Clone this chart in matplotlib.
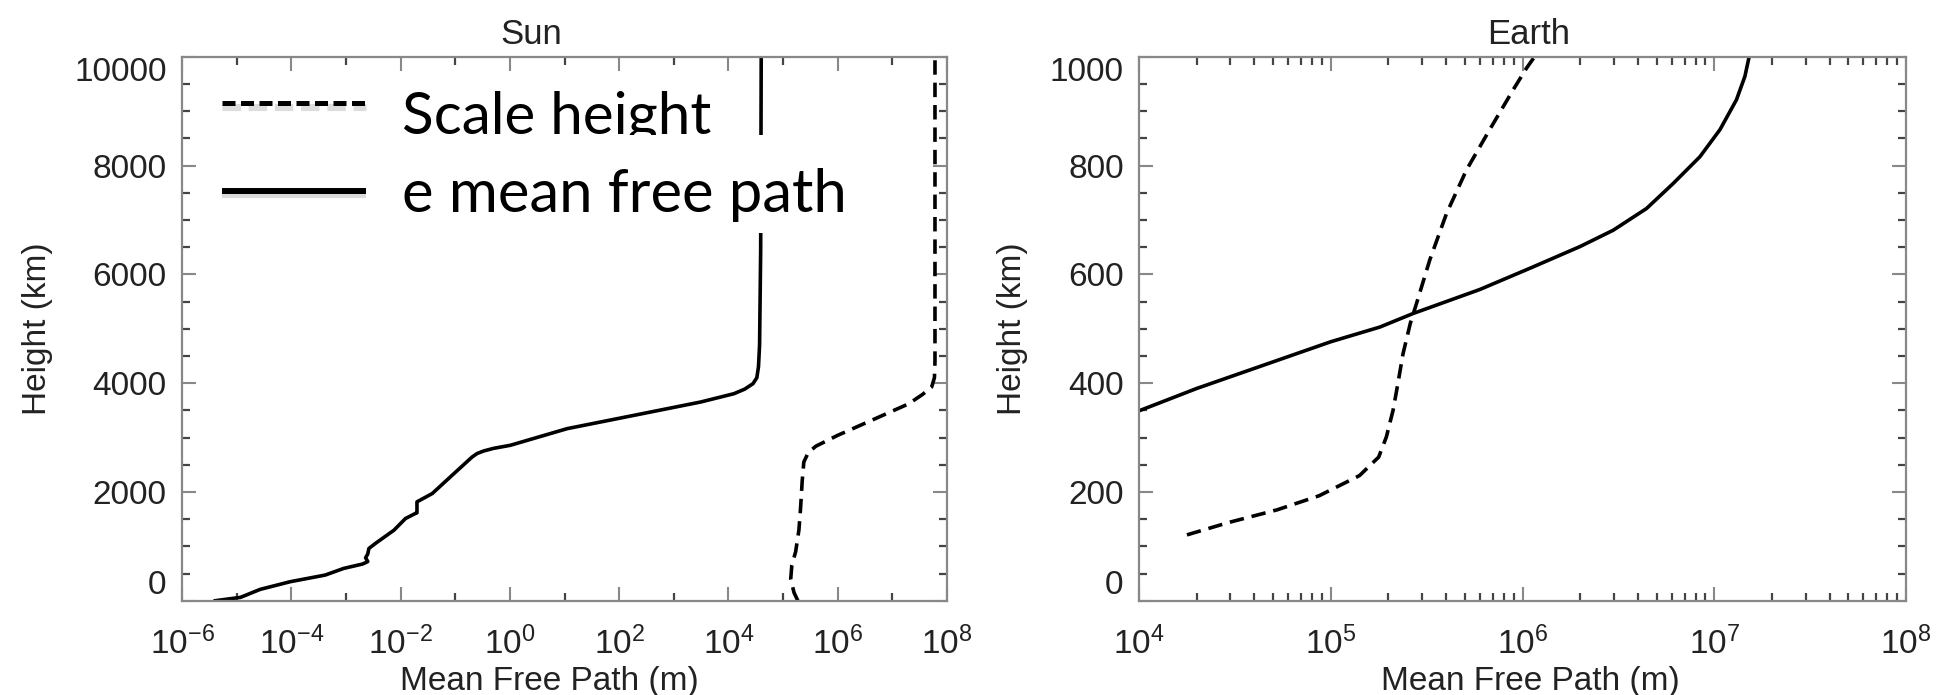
import numpy as np
import matplotlib
matplotlib.use("Agg")
import matplotlib.pyplot as plt
from matplotlib.ticker import (FixedLocator, LogLocator, MultipleLocator,
                               NullFormatter)
from matplotlib.patches import Rectangle

plt.rcParams["font.family"] = ["Liberation Sans", "DejaVu Sans"]
plt.rcParams["mathtext.fontset"] = "custom"
plt.rcParams["mathtext.rm"] = "Liberation Sans"
plt.rcParams["mathtext.it"] = "Liberation Sans:italic"
plt.rcParams["mathtext.bf"] = "Liberation Sans:bold"
plt.rcParams["axes.unicode_minus"] = False

# Sun: log10(mean free path / m) against height (km)
sun_e_log = [-5.39, -4.93, -4.57, -4.02, -3.38, -3.04, -2.70, -2.66, -2.60,
             -2.64, -2.60, -2.58, -2.46, -2.12, -1.91, -1.73, -1.70, -1.70,
             -1.42, -1.09, -0.69, -0.60, -0.48, -0.30, 0.01, 1.05, 2.27,
             3.49, 4.10, 4.30, 4.45, 4.52, 4.55, 4.57, 4.59, 4.60]
sun_e_h = [0, 61, 208, 349, 471, 594, 673, 690, 720, 790, 860, 960, 1053,
           1297, 1511, 1603, 1615, 1817, 1970, 2275, 2642, 2705, 2752, 2800,
           2857, 3163, 3407, 3652, 3805, 3890, 3990, 4100, 4300, 4700, 6435,
           10000]
sun_sh_log = [5.27, 5.20, 5.14, 5.16, 5.23, 5.29, 5.32, 5.35, 5.38, 5.46,
              5.60, 6.00, 6.73, 7.30, 7.55, 7.72, 7.77, 7.78, 7.78]
sun_sh_h = [0, 150, 400, 650, 900, 1300, 1700, 2200, 2550, 2720, 2840, 3040,
            3365, 3620, 3790, 3930, 4100, 4400, 10000]

# Earth
earth_e_log = [4.0, 4.30, 4.65, 5.00, 5.256, 5.43, 5.777, 6.038, 6.30, 6.473,
               6.647, 6.786, 6.925, 7.03, 7.116, 7.16, 7.182]
earth_e_h = [349, 390, 433, 476, 503, 528, 572, 611, 651, 681, 721, 767, 816,
             866, 921, 964, 1000]
earth_sh_log = [4.25, 4.47, 4.72, 4.94, 5.15, 5.25, 5.29, 5.325, 5.35, 5.377,
                5.415, 5.447, 5.516, 5.604, 5.708, 5.829, 5.951, 6.021, 6.059]
earth_sh_h = [121, 144, 167, 193, 230, 264, 301, 350, 399, 454, 510, 546, 626,
              712, 792, 866, 939, 979, 998]

legend_labels = ["Scale height", "e mean free path"]

W, H = 1952, 695
fig = plt.figure(figsize=(W / 100, H / 100), dpi=100)
fig.patch.set_facecolor("white")


def axes_px(x0, x1, y0, y1):
    return fig.add_axes([x0 / W, 1 - y1 / H, (x1 - x0) / W, (y1 - y0) / H])


ax1 = axes_px(182, 947, 56.7, 600.7)
ax2 = axes_px(1139, 1906, 56.7, 600.7)

LW = 2.6
DASH = (0, (4.0, 2.2))

ax1.plot(10.0 ** np.array(sun_e_log), sun_e_h, color="black", lw=LW, zorder=2)
ax1.plot(10.0 ** np.array(sun_sh_log), sun_sh_h, color="black", lw=LW,
         ls=DASH, zorder=2)
ax2.plot(10.0 ** np.array(earth_e_log), earth_e_h, color="black", lw=LW,
         zorder=2)
ax2.plot(10.0 ** np.array(earth_sh_log), earth_sh_h, color="black", lw=LW,
         ls=DASH, zorder=2)

for ax in (ax1, ax2):
    ax.set_xscale("log")
    for sp in ax.spines.values():
        sp.set_color("#888888")
        sp.set_linewidth(1.6)
    ax.tick_params(which="both", direction="in", top=True, right=True,
                   labelsize=24, labelcolor="#222222")
    ax.tick_params(which="major", length=10, width=1.5, color="#888888")
    ax.tick_params(which="minor", length=5.5, width=1.6, color="#444444")
    ax.tick_params(axis="y", pad=11)
    ax.tick_params(axis="x", pad=19)
    ax.set_xlabel("Mean Free Path (m)", fontsize=24, color="#222222")
    ax.set_ylabel("Height (km)", fontsize=24, color="#222222")

ax1.set_xlim(1e-6, 1e8)
ax1.set_ylim(0, 10000)
ax1.xaxis.set_major_locator(FixedLocator(10.0 ** np.arange(-6, 9, 2)))
ax1.xaxis.set_minor_locator(FixedLocator(10.0 ** np.arange(-5, 8, 2)))
ax1.xaxis.set_minor_formatter(NullFormatter())
ax1.yaxis.set_major_locator(MultipleLocator(2000))
ax1.yaxis.set_minor_locator(MultipleLocator(500))

ax2.set_xlim(1e4, 1e8)
ax2.set_ylim(0, 1000)
ax2.xaxis.set_major_locator(LogLocator(base=10, numticks=10))
ax2.xaxis.set_minor_locator(LogLocator(base=10, subs=np.arange(2, 10),
                                       numticks=100))
ax2.xaxis.set_minor_formatter(NullFormatter())
ax2.yaxis.set_major_locator(MultipleLocator(200))
ax2.yaxis.set_minor_locator(MultipleLocator(50))

ax1.yaxis.set_label_coords((53 - 182) / 765, 0.5)
ax2.yaxis.set_label_coords((1028 - 1139) / 767, 0.5)
ax1.xaxis.set_label_coords(0.48, -0.12)
ax2.xaxis.set_label_coords(0.51, -0.12)

ax1.text(0.457, 1.024, "Sun", transform=ax1.transAxes, ha="center",
         va="baseline", fontsize=25, color="#222222")
ax2.text(0.508, 1.024, "Earth", transform=ax2.transAxes, ha="center",
         va="baseline", fontsize=25, color="#222222")

# end labels sit inside the frame, as in the original
fig.canvas.draw()
for ax in (ax1, ax2):
    lo, hi = ax.get_ylim()
    for tick in ax.yaxis.get_major_ticks():
        if np.isclose(tick.get_loc(), lo):
            tick.label1.set_verticalalignment("bottom")
        elif np.isclose(tick.get_loc(), hi):
            tick.label1.set_verticalalignment("top")

# hand-drawn legend pasted over the Sun panel
tr = ax1.transAxes
for y, style, lw in [(0.914, (0, (2.6, 1.1)), 3.6), (0.754, "-", 4.3)]:
    ax1.plot([0.052, 0.240], [y - 0.006, y - 0.006], transform=tr,
             color="#bbbbbb", lw=lw + 1.5, ls=style, alpha=0.5, zorder=3.9,
             solid_capstyle="butt", dash_capstyle="butt")
    ax1.plot([0.052, 0.240], [y, y], transform=tr, color="black", lw=lw,
             ls=style, zorder=4, solid_capstyle="butt", dash_capstyle="butt")

ax1.text(0.2875, 0.859, legend_labels[0], transform=tr, fontsize=42,
         family=["Lato", "DejaVu Sans"], color="black", va="baseline",
         zorder=2.5)
ax1.add_patch(Rectangle((0.278, 0.676), 0.595, 0.180, transform=tr,
                        facecolor="white", edgecolor="none", zorder=3))
ax1.text(0.2875, 0.714, legend_labels[1], transform=tr, fontsize=43,
         family=["Lato", "DejaVu Sans"], color="black", va="baseline",
         zorder=4)

fig.savefig("out.png", dpi=100, facecolor="white")
